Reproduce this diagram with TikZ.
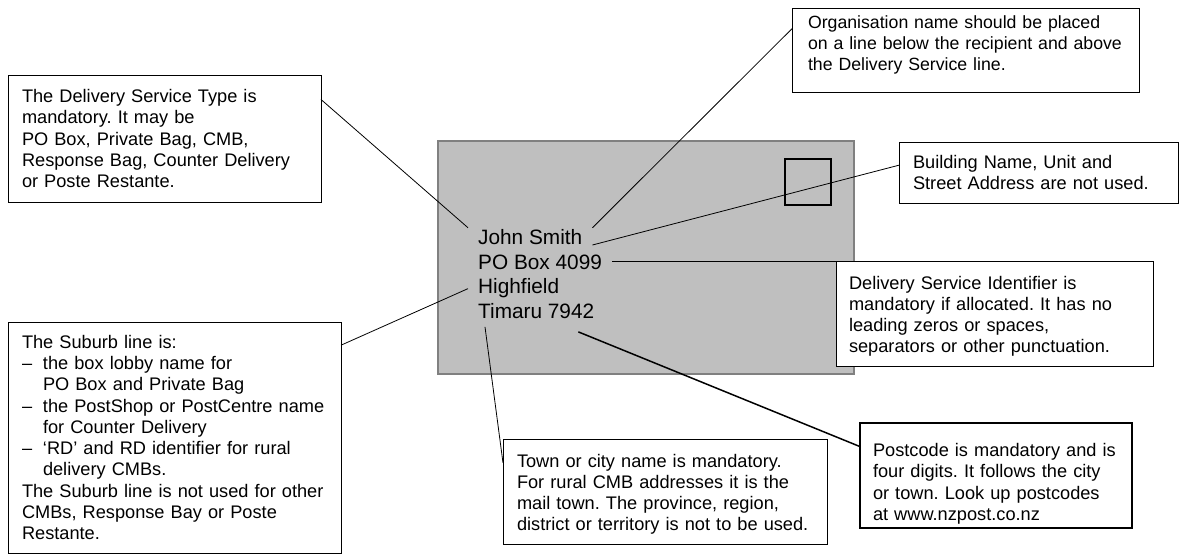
\documentclass[tikz,border=0pt]{standalone}
\usepackage{fontspec}
\setmainfont{Liberation Sans}
\usepackage{tikz}
\frenchspacing

\newcommand{\subdash}{\makebox[21pt][l]{--}}
\newcommand{\subgap}{\hspace*{21pt}}
\newcommand{\topgap}[1]{\rule{0pt}{#1}}
\newcommand{\botgap}[1]{\rule[-#1]{0pt}{#1}}

\tikzset{
  envelope/.style={draw=black!50, fill=black!25, line width=1.5pt, anchor=north west,
    outer sep=0pt, minimum width=416pt, minimum height=233pt},
  stampbox/.style={draw=black, line width=1.5pt, anchor=north west, outer sep=0pt,
    minimum size=46pt},
  address/.style={anchor=base west, inner xsep=10pt, inner ysep=2pt,
    font=\fontsize{20.8}{24.5}\selectfont},
  note/.style={draw, fill=white, line width=0.8pt, anchor=north west, outer sep=0pt,
    align=left, inner xsep=14pt, inner ysep=0pt, font=\fontsize{18.2}{21.3}\selectfont},
  pointer/.style={line width=0.8pt}
}

\begin{document}
\begin{tikzpicture}[x=1pt, y=-1pt]
\useasboundingbox (0,0) rectangle (1184,556);

% envelope
\node[envelope] (env) at (438,141) {};
\node[stampbox] (stamp) at (785,159) {};
\node[address] (john) at (468,245) {John Smith};
\node[address] (pobox) at (468,269.5) {PO Box 4099};
\node[address] (suburb) at (468,294) {Highfield};
\node[address] (town) at (468,318.5) {Timaru 7942};

% notes
\node[note, text width=285pt, minimum height=127pt] (typebox) at (8,75)
  {The Delivery Service Type is\\ mandatory. It may be\\ PO Box, Private Bag, CMB,\\
   Response Bag, Counter Delivery\\ or Poste Restante.};
\node[note, inner xsep=16pt, text width=315pt, minimum height=84pt,
  font=\fontsize{17.7}{21}\selectfont] (orgbox) at (792,8)
  {Organisation name should be placed\\ on a line below the recipient and above\\
   the Delivery Service line.\botgap{13.7pt}};
\node[note, text width=251pt, minimum height=61pt] (bldbox) at (899,142)
  {Building Name, Unit and\\ Street Address are not used.};
\node[note, inner xsep=13pt, text width=291pt, minimum height=105pt] (dsibox) at (836,261)
  {\topgap{18.8pt}Delivery Service Identifier is\\ mandatory if allocated. It has no\\
   leading zeros or spaces,\\ separators or other punctuation.};
\node[note, text width=296pt, minimum height=105pt] (townbox) at (503,439)
  {\topgap{18.8pt}Town or city name is mandatory.\\ For rural CMB addresses it is the\\
   mail town. The province, region,\\ district or territory is not to be used.};
\node[note, inner xsep=13pt, text width=246pt, minimum height=105pt, line width=2pt]
  (postbox) at (860,423)
  {\topgap{30pt}Postcode is mandatory and is\\ four digits. It follows the city\\
   or town. Look up postcodes\\ at www.nzpost.co.nz};
\node[note, text width=305pt, minimum height=231pt] (suburbbox) at (8,322)
  {The Suburb line is:\\ \subdash the box lobby name for\\ \subgap PO Box and Private Bag\\
   \subdash the PostShop or PostCentre name\\ \subgap for Counter Delivery\\
   \subdash `RD' and RD identifier for rural\\ \subgap delivery CMBs.\\
   The Suburb line is not used for other\\ CMBs, Response Bay or Poste\\ Restante.};

% pointers
\draw[pointer] (typebox.14) -- (john.north west);
\draw[pointer] (orgbox.173) -- (john.north east);
\draw[pointer] (bldbox.177) -- (john.base east);
\draw[pointer] (pobox.east |- dsibox.north) -- (dsibox.north west);
\draw[pointer] (suburbbox.29) -- (suburb.west);
\draw[pointer] ([xshift=17pt,yshift=-6pt]town.south west) -- (townbox.170);
\draw[pointer, line width=1.5pt] ([xshift=-26pt,yshift=-11pt]town.south east) -- (postbox.168);
\end{tikzpicture}
\end{document}
